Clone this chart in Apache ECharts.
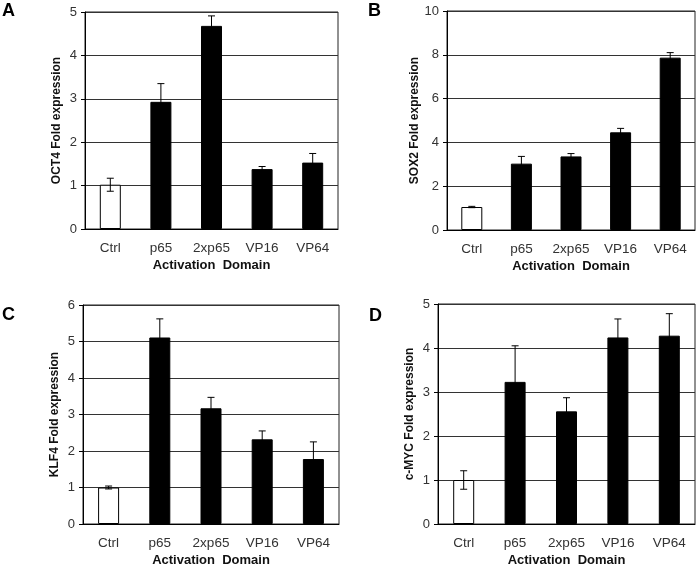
<!DOCTYPE html>
<html><head><meta charset="utf-8">
<script src="https://cdn.jsdelivr.net/npm/echarts@6/dist/echarts.min.js"></script>
<style>html,body{margin:0;padding:0;background:#fff}#c{width:697px;height:568px}</style>
</head><body><div id="c"></div>
<script>
var categories = ['Ctrl', 'p65', '2xp65', 'VP16', 'VP64'];
var oct4 = [1.02, 2.93, 4.68, 1.38, 1.53];
var oct4Err = [0.15, 0.42, 0.23, 0.06, 0.21];
var sox2 = [1.05, 3.03, 3.36, 4.46, 7.87];
var sox2Err = [0.03, 0.33, 0.13, 0.18, 0.23];
var klf4 = [1.0, 5.11, 3.17, 2.32, 1.78];
var klf4Err = [0.04, 0.51, 0.30, 0.23, 0.47];
var cmyc = [1.0, 3.23, 2.56, 4.24, 4.28];
var cmycErr = [0.21, 0.82, 0.31, 0.42, 0.50];
var yMax = [5, 10, 6, 5];
var yStep = [1, 2, 1, 1];
var yNames = ['OCT4 Fold expression', 'SOX2 Fold expression', 'KLF4 Fold expression', 'c-MYC Fold expression'];
var panelLetters = ['A', 'B', 'C', 'D'];
var xName = 'Activation  Domain';

var panels = [[oct4, oct4Err], [sox2, sox2Err], [klf4, klf4Err], [cmyc, cmycErr]];
var grids = [
  {left: 85, top: 12, width: 253, height: 217},
  {left: 447, top: 11, width: 248, height: 219},
  {left: 83, top: 305, width: 256, height: 220},
  {left: 438, top: 304, width: 257, height: 223}
];
var letterPos = [[2, 2], [368, 2], [2, 306], [369, 307]];
var FONT = 'Liberation Sans, Arial, sans-serif';

var option = {
  animation: false,
  backgroundColor: '#fff',
  title: panelLetters.map(function (l, i) {
    return {text: l, left: letterPos[i][0], top: letterPos[i][1], padding: 0,
      textStyle: {fontFamily: FONT, fontWeight: 'bold', fontSize: 18, color: '#000'}};
  }),
  grid: grids.map(function (g) {
    return Object.assign({show: true, borderColor: '#222', borderWidth: 1, backgroundColor: 'transparent'}, g);
  }),
  xAxis: [], yAxis: [], series: []
};

panels.forEach(function (p, i) {
  option.xAxis.push({
    type: 'category', gridIndex: i, data: categories,
    axisLine: {show: true, lineStyle: {color: '#000', width: 1}},
    axisTick: {show: false},
    axisLabel: {color: '#333', fontFamily: FONT, fontSize: 13.5, margin: 12},
    name: xName, nameLocation: 'middle', nameGap: 30,
    nameTextStyle: {fontFamily: FONT, fontWeight: 'bold', fontSize: 13, color: '#111'}
  });
  option.yAxis.push({
    type: 'value', gridIndex: i, min: 0, max: yMax[i], interval: yStep[i],
    axisLine: {show: true, lineStyle: {color: '#000', width: 1}},
    axisTick: {show: true, length: 4, lineStyle: {color: '#000'}},
    axisLabel: {color: '#333', fontFamily: FONT, fontSize: 13, margin: 8},
    splitLine: {show: true, lineStyle: {color: '#333', width: 1}},
    name: yNames[i], nameLocation: 'middle', nameGap: 22, nameRotate: 90,
    nameTextStyle: {fontFamily: FONT, fontWeight: 'bold', fontSize: 12, color: '#111'}
  });
  option.series.push({
    type: 'bar', xAxisIndex: i, yAxisIndex: i, barWidth: 21,
    data: p[0].map(function (v, j) {
      return {value: v, itemStyle: j === 0 ?
        {color: '#fff', borderColor: '#000', borderWidth: 1} :
        {color: '#000', borderColor: '#000', borderWidth: 1}};
    }),
    z: 2
  });
  option.series.push({
    type: 'custom', xAxisIndex: i, yAxisIndex: i, z: 5,
    data: p[0].map(function (v, j) { return [j, v - p[1][j], v + p[1][j]]; }),
    renderItem: function (params, api) {
      var lo = api.coord([api.value(0), api.value(1)]);
      var hi = api.coord([api.value(0), api.value(2)]);
      var hw = 3.5;
      var st = {stroke: '#000', lineWidth: 1};
      return {type: 'group', children: [
        {type: 'line', shape: {x1: lo[0], y1: lo[1], x2: hi[0], y2: hi[1]}, style: st},
        {type: 'line', shape: {x1: hi[0] - hw, y1: hi[1], x2: hi[0] + hw, y2: hi[1]}, style: st},
        {type: 'line', shape: {x1: lo[0] - hw, y1: lo[1], x2: lo[0] + hw, y2: lo[1]}, style: st}
      ]};
    }
  });
});

var chart = echarts.init(document.getElementById('c'), null, {renderer: 'canvas'});
chart.setOption(option);
</script></body></html>
